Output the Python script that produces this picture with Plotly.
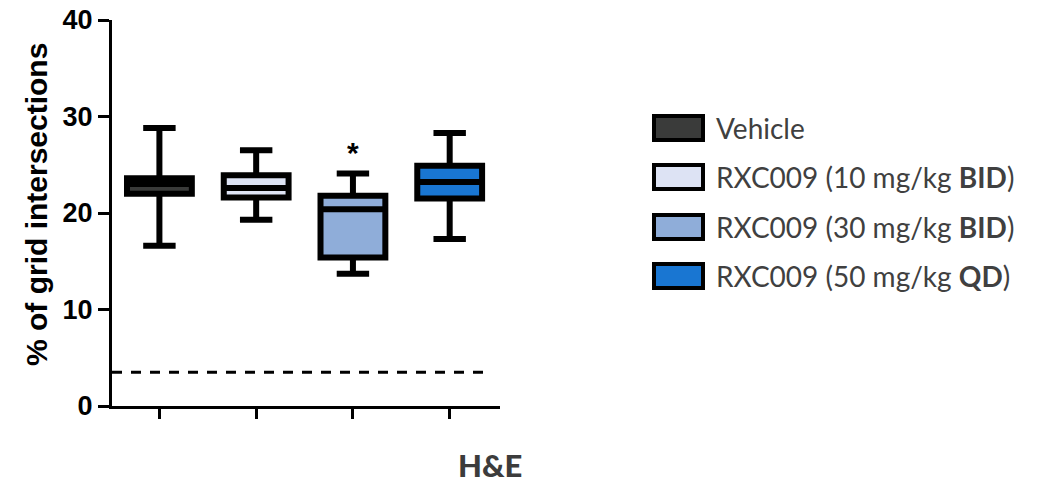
import plotly.graph_objects as go

# Groups and box-plot summaries (% of grid intersections)
groups = ["Vehicle", "RXC009 (10 mg/kg BID)", "RXC009 (30 mg/kg BID)", "RXC009 (50 mg/kg QD)"]
legend_labels = [
    "Vehicle",
    "RXC009 (10 mg/kg <b>BID</b>)",
    "RXC009 (30 mg/kg <b>BID</b>)",
    "RXC009 (50 mg/kg <b>QD</b>)",
]
whisker_low = [16.6, 19.3, 13.7, 17.3]
q1 = [22.0, 21.6, 15.4, 21.5]
median = [23.0, 22.6, 20.4, 23.2]
q3 = [23.6, 23.9, 21.8, 24.9]
whisker_high = [28.8, 26.5, 24.1, 28.3]
fill_colors = ["#3a3b3a", "#dde3f4", "#8fadd9", "#1976d2"]

baseline = 3.5          # dashed reference level
significant = [False, False, True, False]
y_ticks = [0, 10, 20, 30, 40]

W, H = 1038, 483
L, R, T, B = 112, 538, 20, 77
plot_w = W - L - R
plot_h = H - T - B


def px_x(px):
    return (px - L) / plot_w


def px_y(py):
    return (H - B - py) / plot_h


fig = go.Figure()
for i, name in enumerate(groups):
    fig.add_trace(go.Box(
        x=[i], q1=[q1[i]], median=[median[i]], q3=[q3[i]],
        lowerfence=[whisker_low[i]], upperfence=[whisker_high[i]],
        name=name, width=0.67, whiskerwidth=0.5,
        fillcolor=fill_colors[i], line=dict(color="black", width=6),
        boxpoints=False, showlegend=False, hoverinfo="skip",
    ))

shapes = [dict(
    type="line", xref="x", yref="y", x0=-0.49, x1=3.4, y0=baseline, y1=baseline,
    line=dict(color="black", width=3, dash="10px,9px"),
)]

annotations = []
for i, sig in enumerate(significant):
    if sig:
        annotations.append(dict(
            x=i, y=whisker_high[i], xref="x", yref="y", text="<b>*</b>",
            showarrow=False, yanchor="bottom", yshift=2,
            font=dict(family="Liberation Sans, Arial", size=30, color="black"),
        ))

# Legend drawn as swatches with labels
legend_rows = [128, 177, 227, 276]
for label, color, cy in zip(legend_labels, fill_colors, legend_rows):
    shapes.append(dict(
        type="rect", xref="paper", yref="paper",
        x0=px_x(654), x1=px_x(703), y0=px_y(cy + 12), y1=px_y(cy - 12),
        fillcolor=color, line=dict(color="black", width=4),
    ))
    annotations.append(dict(
        x=px_x(714), y=px_y(cy), xref="paper", yref="paper", text=label,
        showarrow=False, xanchor="left", yanchor="middle",
        font=dict(family="Lato", size=28, color="#404040"),
    ))

annotations.append(dict(
    x=px_x(490), y=px_y(465), xref="paper", yref="paper", text="H&E",
    showarrow=False, xanchor="center", yanchor="middle",
    font=dict(family="Lato", size=31, color="#3c3c3c", weight=900),
))
annotations.append(dict(
    x=px_x(36), y=px_y(205), xref="paper", yref="paper",
    text="<b>% of grid intersections</b>", textangle=-90,
    showarrow=False, xanchor="center", yanchor="middle",
    font=dict(family="Liberation Sans, Arial", size=30, color="black"),
))

fig.update_layout(
    width=W, height=H,
    margin=dict(l=L, r=R, t=T, b=B, autoexpand=False),
    plot_bgcolor="white", paper_bgcolor="white",
    boxmode="overlay",
    shapes=shapes, annotations=annotations,
    xaxis=dict(
        range=[-0.49, 3.52], tickvals=[0, 1, 2, 3], ticktext=["", "", "", ""],
        showline=True, linecolor="black", linewidth=3,
        ticks="outside", ticklen=10, tickwidth=3, tickcolor="black",
        showgrid=False, zeroline=False, fixedrange=True, automargin=False,
    ),
    yaxis=dict(
        range=[0, 40], tickvals=y_ticks,
        tickfont=dict(family="Liberation Sans, Arial", size=27, color="black", weight="bold"),
        showline=True, linecolor="black", linewidth=3,
        ticks="outside", ticklen=11, tickwidth=3, tickcolor="black",
        showgrid=False, zeroline=False, fixedrange=True, automargin=False,
    ),
)

fig.write_html("out.html")
